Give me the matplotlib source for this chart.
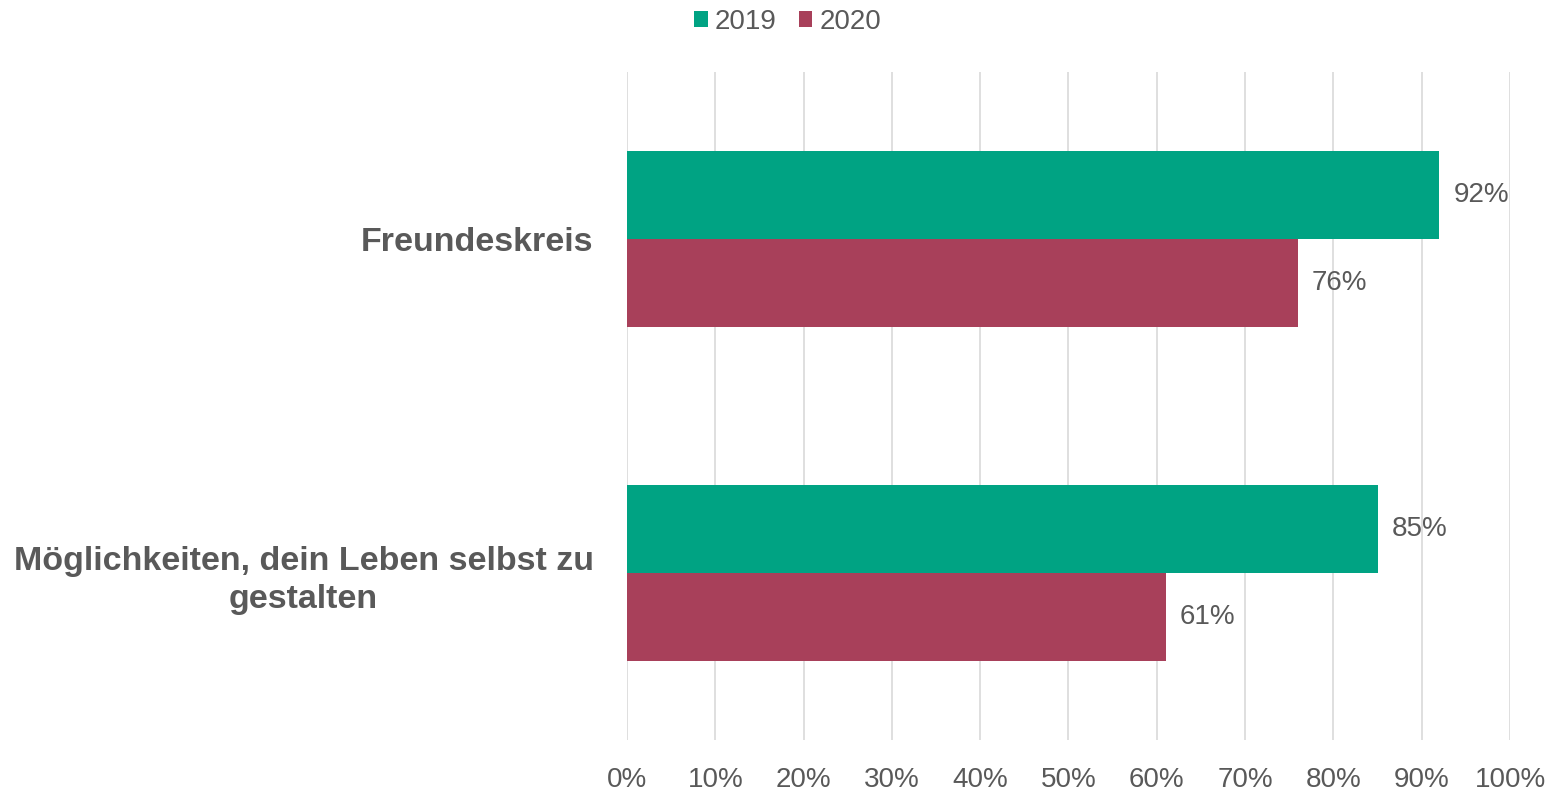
import matplotlib.pyplot as plt
import numpy as np

plt.rcParams['font.family'] = ['Liberation Sans', 'DejaVu Sans']

# data
categories = ["Freundeskreis", "Möglichkeiten, dein Leben selbst zu\ngestalten"]
years = ["2019", "2020"]
values_2019 = [92, 85]
values_2020 = [76, 61]
colors = ["#00A383", "#A8405A"]
text_col = "#595959"

fig = plt.figure(figsize=(15.5, 7.9), dpi=100)
ax = fig.add_axes([0.4045, 0.063, 0.5697, 0.846])

y = np.arange(len(categories))
h = 0.263
b1 = ax.barh(y - h / 2, values_2019, height=h, color=colors[0], label=years[0])
b2 = ax.barh(y + h / 2, values_2020, height=h, color=colors[1], label=years[1])

for bars in (b1, b2):
    ax.bar_label(bars, labels=[f"{v:.0f}%" for v in bars.datavalues],
                 padding=10, fontsize=20, color=text_col)

ax.set_xlim(0, 100)
ax.set_ylim(1.5, -0.5)
ax.set_xticks(np.arange(0, 101, 10))
ax.set_xticklabels([f"{t}%" for t in range(0, 101, 10)], fontsize=20, color=text_col)
ax.set_yticks(y)
ax.set_yticklabels(categories, fontsize=24.5, fontweight="bold", color=text_col,
                   multialignment="center", linespacing=1.3)
ax.tick_params(axis="both", length=0)
ax.tick_params(axis="x", pad=19)
ax.tick_params(axis="y", pad=24)

ax.grid(axis="x", color="#D9D9D9", linewidth=1.2)
ax.set_axisbelow(True)
for s in ax.spines.values():
    s.set_visible(False)

fig.legend(loc="upper center", bbox_to_anchor=(0.508, 1.02), ncol=2, frameon=False,
           fontsize=20, handlelength=0.5, handleheight=0.5, handletextpad=0.25,
           columnspacing=0.8, labelcolor=text_col)

fig.savefig("out.png", dpi=100)
